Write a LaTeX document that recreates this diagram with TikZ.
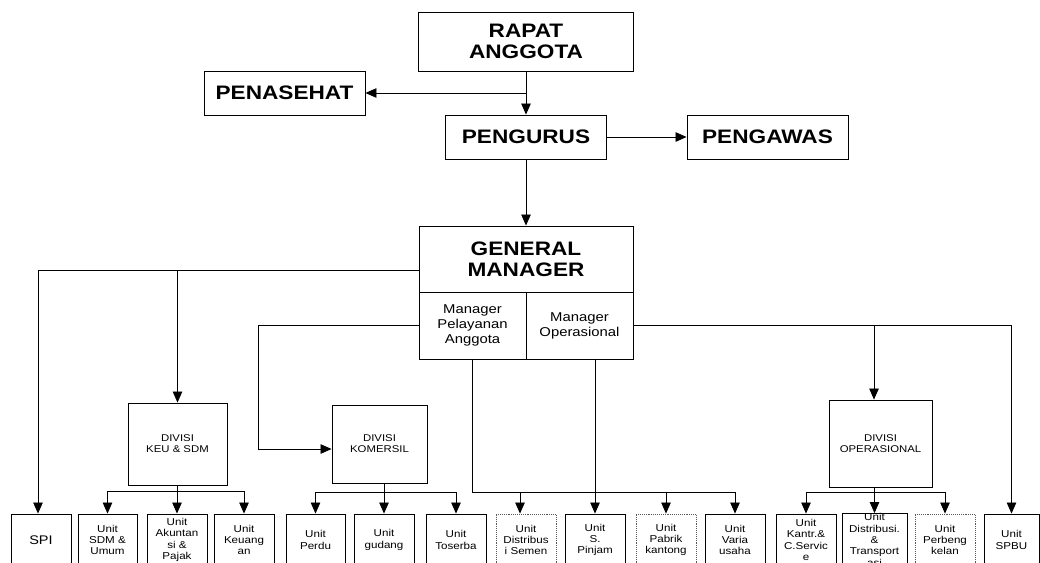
\documentclass[tikz,border=0pt]{standalone}
\usepackage{fontspec}
\setmainfont{Liberation Sans}[FakeStretch=1.16]
\usetikzlibrary{arrows.meta}
\begin{document}
\begin{tikzpicture}[x=1pt,y=-1pt,
  box/.style={draw, line width=0.9pt, inner sep=0pt, align=center},
  big/.style={box, font=\fontsize{19.5}{21}\selectfont\bfseries},
  mid/.style={box, font=\fontsize{12.8}{15}\selectfont},
  div/.style={box, font=\fontsize{9.8}{11}\selectfont},
  unit/.style={box, minimum width=60pt, minimum height=52pt, font=\fontsize{10}{11.4}\selectfont},
  dunit/.style={unit, densely dotted, draw=black!65},
  arr/.style={line width=0.8pt, -{Triangle[length=11pt,width=9.5pt]}},
  ln/.style={line width=0.8pt}]
\useasboundingbox (0,0) rectangle (1040,562);
\fill[white] (0,0) rectangle (1040,562);
\clip (0,0) rectangle (1040,562);

% top
\node[big, minimum width=215pt, minimum height=59pt] (rapat) at (526,41.5) {RAPAT\\ANGGOTA};
\node[big, minimum width=161pt, minimum height=44pt] (penasehat) at (284.5,93) {PENASEHAT};
\node[big, minimum width=161pt, minimum height=44pt] (pengurus) at (526,137) {PENGURUS};
\node[big, minimum width=161pt, minimum height=44pt] (pengawas) at (767.5,137) {PENGAWAS};

% general manager
\node[big, minimum width=214pt, minimum height=66pt] (gm) at (526,259) {GENERAL\\MANAGER};
\node[mid, minimum width=107pt, minimum height=67pt] (mpa) at (472.5,325.5) {Manager\\Pelayanan\\Anggota};
\node[mid, minimum width=107pt, minimum height=67pt] (mop) at (579.5,325.5) {Manager\\Operasional};

% divisions
\node[div, minimum width=99pt, minimum height=82pt] (keu) at (177.5,444) {DIVISI\\KEU \& SDM};
\node[div, minimum width=95pt, minimum height=78pt] (kom) at (379.5,444) {DIVISI\\KOMERSIL};
\node[div, minimum width=103pt, minimum height=87pt] (opd) at (880.5,443.5) {DIVISI\\OPERASIONAL};

% units
\node[unit, font=\fontsize{12.5}{14}\selectfont] (spi) at (41,540) {SPI};
\node[unit, minimum width=59pt] (sdm) at (107.5,540) {Unit\\SDM \&\\Umum};
\node[unit] (aku) at (177,540) {Unit\\Akuntan\\si \&\\Pajak};
\node[unit] (keug) at (244,540) {Unit\\Keuang\\an};
\node[unit, minimum width=59pt] (perdu) at (315.5,540) {Unit\\Perdu};
\node[unit] (gudang) at (384,540) {Unit\\gudang};
\node[unit] (toserba) at (456,540) {Unit\\Toserba};
\node[dunit] (dsemen) at (526,540) {Unit\\Distribus\\i Semen};
\node[unit] (spinjam) at (595,540) {Unit\\S.\\Pinjam};
\node[dunit] (pabrik) at (666,540) {Unit\\Pabrik\\kantong};
\node[unit] (varia) at (735,540) {Unit\\Varia\\usaha};
\node[unit] (kantr) at (806,540) {Unit\\Kantr.\&\\C.Servic\\e};
\node[unit, minimum width=65pt] (dtrans) at (874.5,540) {Unit\\Distribusi.\\\&\\Transport\\asi};
\node[dunit] (perbeng) at (945,540) {Unit\\Perbeng\\kelan};
\node[unit, minimum width=55pt] (spbu) at (1011.5,540) {Unit\\SPBU};

% junction coordinates
\coordinate (jl) at ([yshift=-11pt]gm.west);
\coordinate (spiTop) at ([xshift=-3pt]spi.north);
\coordinate (bkeu) at (0,491);
\coordinate (bbus) at (0,492);
\coordinate (kcorner) at (258,0);
\coordinate (dsTop) at ([xshift=-6pt]dsemen.north);
\coordinate (opdTop) at ([xshift=-6.5pt]opd.north);
\coordinate (opdBot) at ([xshift=-6.5pt]opd.south);

% top connectors
\draw[arr] (rapat.south) -- (pengurus.north);
\draw[arr] (rapat.south |- penasehat.east) -- (penasehat.east);
\draw[arr] (pengurus.east) -- (pengawas.west);
\draw[arr] (pengurus.south) -- (gm.north);

% GM left
\draw[arr] (jl) -| (spiTop);
\draw[arr] (keu.north |- jl) -- (keu.north);
% KEU bus
\draw[ln] (keu.south) -- (keu.south |- bkeu);
\draw[ln] (sdm.north |- bkeu) -- (keug.north |- bkeu);
\draw[arr] (sdm.north |- bkeu) -- (sdm.north);
\draw[arr] (aku.north |- bkeu) -- (aku.north);
\draw[arr] (keug.north |- bkeu) -- (keug.north);

% Manager Pelayanan -> Komersil
\draw[arr] (mpa.west) -- (kcorner |- mpa.west) |- ([yshift=-5pt]kom.west);
\draw[ln] (gudang.north |- kom.south) -- (gudang.north |- bbus);
\draw[ln] (perdu.north |- bbus) -- (toserba.north |- bbus);
\draw[arr] (perdu.north |- bbus) -- (perdu.north);
\draw[arr] (gudang.north |- bbus) -- (gudang.north);
\draw[arr] (toserba.north |- bbus) -- (toserba.north);

% Manager Pelayanan bottom bus
\draw[ln] (mpa.south) -- (mpa.south |- bbus) -- (varia.north |- bbus);
\draw[arr] (dsTop |- bbus) -- (dsTop);
\draw[arr] (pabrik.north |- bbus) -- (pabrik.north);
\draw[arr] (varia.north |- bbus) -- (varia.north);

% Manager Operasional
\draw[arr] (spinjam.north |- mop.south) -- (spinjam.north);
\draw[arr] (mop.east) -| (spbu.north);
\draw[arr] (opdTop |- mop.east) -- (opdTop);
\draw[ln] (opdBot) -- (opdBot |- bbus);
\draw[ln] (kantr.north |- bbus) -- (perbeng.north |- bbus);
\draw[arr] (kantr.north |- bbus) -- (kantr.north);
\draw[arr] (dtrans.north |- bbus) -- (dtrans.north);
\draw[arr] (perbeng.north |- bbus) -- (perbeng.north);
\end{tikzpicture}
\end{document}
